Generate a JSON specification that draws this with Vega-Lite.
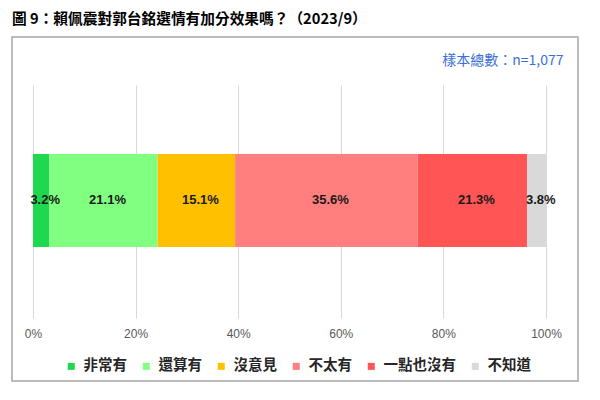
{
  "$schema": "https://vega.github.io/schema/vega-lite/v6.json",
  "width": 566,
  "height": 344,
  "autosize": {"type": "none"},
  "padding": {"left": 12, "top": 37, "right": 22, "bottom": 19},
  "background": "white",
  "title": {
    "text": "圖 9：賴佩震對郭台銘選情有加分效果嗎？（2023/9）",
    "anchor": "start",
    "frame": "group",
    "font": "Noto Sans CJK TC",
    "fontSize": 14.7,
    "fontWeight": "bold",
    "color": "#000000",
    "offset": 10
  },
  "config": {"view": {"stroke": "#A6A6A6", "strokeWidth": 1.5}},
  "data": {
    "values": [
      {"q": "all", "resp": "非常有", "pct": 3.2, "label": "3.2%", "ord": 1},
      {"q": "all", "resp": "還算有", "pct": 21.1, "label": "21.1%", "ord": 2},
      {"q": "all", "resp": "沒意見", "pct": 15.1, "label": "15.1%", "ord": 3},
      {"q": "all", "resp": "不太有", "pct": 35.6, "label": "35.6%", "ord": 4},
      {"q": "all", "resp": "一點也沒有", "pct": 21.3, "label": "21.3%", "ord": 5},
      {"q": "all", "resp": "不知道", "pct": 3.8, "label": "3.8%", "ord": 6}
    ]
  },
  "resolve": {"axis": {"x": "independent"}},
  "layer": [
    {
      "mark": {"type": "bar"},
      "encoding": {
        "x": {
          "field": "pct",
          "type": "quantitative",
          "stack": "zero",
          "scale": {"domain": [-4.09, 106.24], "nice": false, "zero": false},
          "axis": {
            "orient": "bottom",
            "offset": -63,
            "values": [0, 20, 40, 60, 80, 100],
            "labelExpr": "datum.value + '%'",
            "grid": false,
            "domain": false,
            "ticks": true,
            "tickSize": -233,
            "tickColor": "#D9D9D9",
            "tickWidth": 1,
            "labelPadding": 243,
            "labelFont": "Liberation Sans",
            "labelFontSize": 12,
            "labelColor": "#595959",
            "title": null
          }
        },
        "y": {
          "field": "q",
          "type": "nominal",
          "scale": {"paddingInner": 0.259, "paddingOuter": 1, "align": 0.466},
          "axis": null
        },
        "color": {
          "field": "resp",
          "type": "nominal",
          "scale": {
            "domain": ["非常有", "還算有", "沒意見", "不太有", "一點也沒有", "不知道"],
            "range": ["#1ED94F", "#80FF80", "#FFC000", "#FF7F7F", "#FF5555", "#D9D9D9"]
          },
          "legend": {
            "orient": "none",
            "legendX": 52,
            "legendY": 322,
            "direction": "horizontal",
            "columns": 6,
            "title": null,
            "symbolType": "square",
            "symbolSize": 49,
            "symbolStrokeWidth": 0,
            "labelFont": "Noto Sans CJK TC",
            "labelFontSize": 14.5,
            "labelFontWeight": "bold",
            "labelColor": "#262626",
            "labelOffset": 5,
            "columnPadding": 12,
            "encode": {
              "symbols": {
                "update": {
                  "fill": {"signal": "datum.value === '非常有' ? '#00AA00' : scale('color', datum.value)"}
                }
              }
            }
          }
        },
        "order": {"field": "ord", "type": "quantitative"}
      }
    },
    {
      "mark": {"type": "text", "font": "Liberation Sans", "fontSize": 13, "fontWeight": "bold", "color": "#1A1A1A", "dx": 4},
      "encoding": {
        "x": {
          "field": "pct",
          "type": "quantitative",
          "stack": "zero",
          "bandPosition": 0.5,
          "axis": {
            "orient": "top",
            "offset": -30,
            "labels": false,
            "ticks": false,
            "domain": false,
            "grid": false,
            "title": "樣本總數：n=1,077",
            "titleColor": "#3C6FD8",
            "titleFont": "Noto Sans CJK TC",
            "titleFontSize": 14,
            "titleFontWeight": "normal",
            "titleX": 551,
            "titleAlign": "right",
            "titlePadding": 0
          }
        },
        "y": {"field": "q", "type": "nominal"},
        "text": {"field": "label", "type": "nominal"},
        "order": {"field": "ord", "type": "quantitative"}
      }
    }
  ]
}
